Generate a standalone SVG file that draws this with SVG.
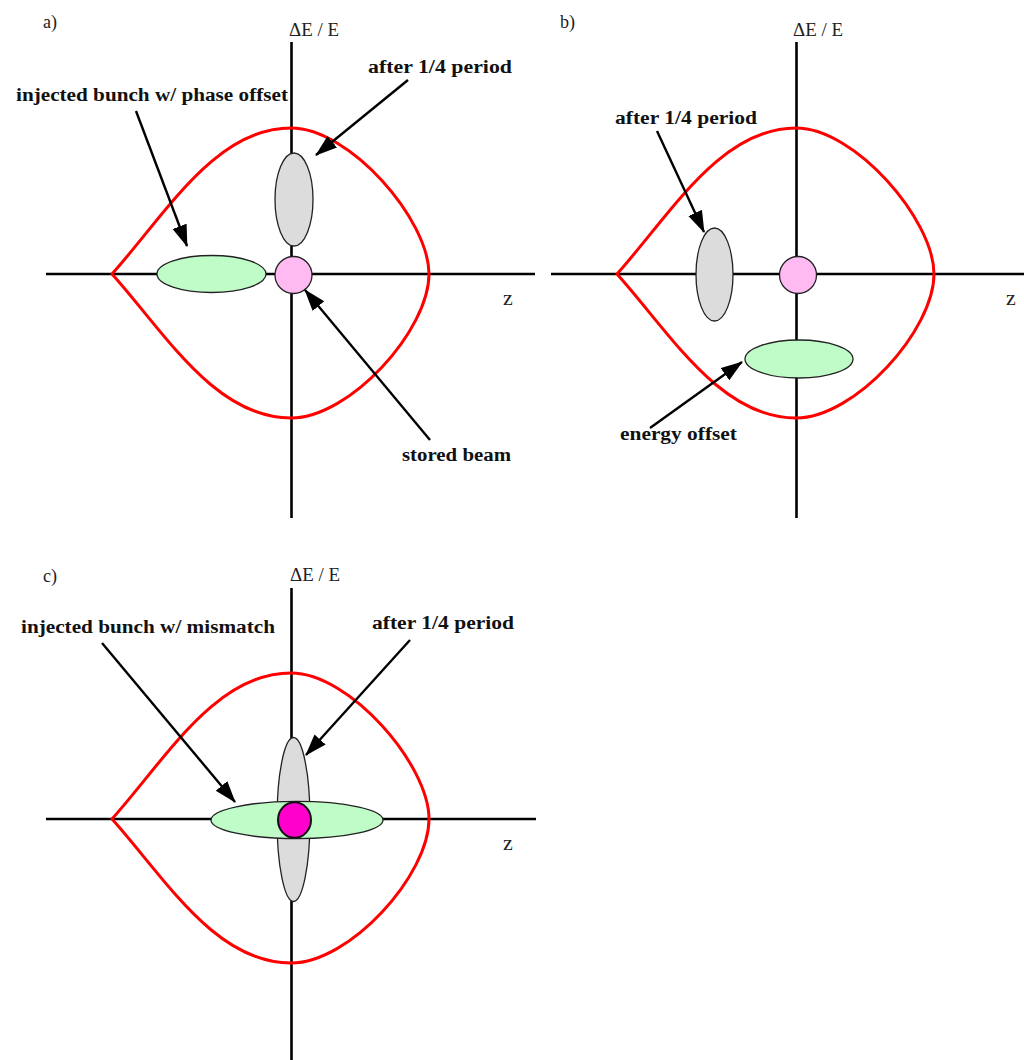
<svg xmlns="http://www.w3.org/2000/svg" xmlns:xlink="http://www.w3.org/1999/xlink" width="1024" height="1060" viewBox="0 0 1024 1060">
<style>
.axis{stroke:#000;stroke-width:2.6;fill:none}
.sep{stroke:#f00;stroke-width:3;fill:none;stroke-linejoin:round}
.bunch{stroke:#222;stroke-width:1.3}
.green{fill:#c0fcc8}
.gray{fill:#dcdcdc}
.pink{fill:#ffbaf2}
.mag{fill:#ff00cc;stroke:#111;stroke-width:2}
.arrow{stroke:#000;stroke-width:2.4;fill:none;marker-end:url(#ah)}
.lbl{font-family:"Liberation Serif","Times New Roman",serif;font-weight:bold;font-size:18px;fill:#111}
.ax{font-family:"Liberation Serif","Times New Roman",serif;font-size:18px;fill:#222}
.zl{font-family:"Liberation Serif","Times New Roman",serif;font-size:22px;fill:#222}
</style>
<defs>
<marker id="ah" markerUnits="userSpaceOnUse" markerWidth="24" markerHeight="16" refX="21" refY="7.5" orient="auto">
<path d="M0,0 L22,7.5 L0,15 Z" fill="#000"/>
</marker>
<path id="separatrix" d="M112,274 C165,215 215,128 291,128 C350,128 429,220 429,274 C429,330 350,418 291,418 C215,418 165,333 112,274 Z"/>
</defs>
<rect width="1024" height="1060" fill="#fff"/>

<g id="axes">
<line class="axis" x1="291.5" y1="42" x2="291.5" y2="518"/>
<line class="axis" x1="46" y1="274" x2="535" y2="274"/>
<line class="axis" x1="796.5" y1="42" x2="796.5" y2="518"/>
<line class="axis" x1="551" y1="274" x2="1024" y2="274"/>
<line class="axis" x1="291.5" y1="588" x2="291.5" y2="1060"/>
<line class="axis" x1="46" y1="819" x2="536" y2="819"/>
</g>

<g id="separatrices">
<use xlink:href="#separatrix" href="#separatrix" class="sep"/>
<use xlink:href="#separatrix" href="#separatrix" class="sep" transform="translate(505,0)"/>
<use xlink:href="#separatrix" href="#separatrix" class="sep" transform="translate(0,545)"/>
</g>

<g id="panel-a-labels">
<text class="ax" x="43" y="28">a)</text>
<text class="ax" x="289" y="36" textLength="50" lengthAdjust="spacingAndGlyphs">ΔE / E</text>
<text class="zl" x="503" y="305">z</text>
</g>
<g id="panel-b-labels">
<text class="ax" x="560" y="28">b)</text>
<text class="ax" x="793" y="36" textLength="50" lengthAdjust="spacingAndGlyphs">ΔE / E</text>
<text class="zl" x="1006" y="305">z</text>
</g>
<g id="panel-c-labels">
<text class="ax" x="43" y="582">c)</text>
<text class="ax" x="290" y="581" textLength="50" lengthAdjust="spacingAndGlyphs">ΔE / E</text>
<text class="zl" x="503" y="850">z</text>
</g>

<g id="a-injected"><ellipse class="bunch green" cx="211.5" cy="274" rx="54.5" ry="18.5"/></g>
<g id="a-quarter"><ellipse class="bunch gray" cx="294" cy="199.5" rx="19" ry="46.5"/></g>
<g id="a-stored"><circle class="bunch pink" cx="293.5" cy="275" r="18.5"/></g>

<g id="b-quarter"><ellipse class="bunch gray" cx="714.5" cy="274.5" rx="18.5" ry="46.5"/></g>
<g id="b-stored"><circle class="bunch pink" cx="798" cy="275" r="18.5"/></g>
<g id="b-energy"><ellipse class="bunch green" cx="799" cy="359" rx="54" ry="19"/></g>

<g id="c-quarter"><ellipse class="bunch gray" cx="293.5" cy="819.5" rx="16.5" ry="82"/></g>
<g id="c-injected"><ellipse class="bunch green" cx="297" cy="820" rx="86" ry="18.7"/></g>
<g id="c-stored"><ellipse class="mag" cx="294.5" cy="820" rx="16.5" ry="17.8"/></g>

<g id="connectors">
<line class="arrow" x1="136" y1="111" x2="187" y2="246"/>
<line class="arrow" x1="408" y1="80" x2="316" y2="155"/>
<line class="arrow" x1="430" y1="440" x2="305" y2="290"/>
<line class="arrow" x1="657" y1="131" x2="704" y2="232"/>
<line class="arrow" x1="650" y1="428" x2="742" y2="362"/>
<line class="arrow" x1="102" y1="643" x2="235" y2="802"/>
<line class="arrow" x1="410" y1="640" x2="306" y2="755"/>
</g>

<g id="a-label-injected"><text class="lbl" x="16" y="101" textLength="272" lengthAdjust="spacingAndGlyphs">injected bunch w/ phase offset</text></g>
<g id="a-label-quarter"><text class="lbl" x="368" y="73" textLength="144" lengthAdjust="spacingAndGlyphs">after 1/4 period</text></g>
<g id="a-label-stored"><text class="lbl" x="402" y="461" textLength="109" lengthAdjust="spacingAndGlyphs">stored beam</text></g>
<g id="b-label-quarter"><text class="lbl" x="615" y="124" textLength="142" lengthAdjust="spacingAndGlyphs">after 1/4 period</text></g>
<g id="b-label-energy"><text class="lbl" x="620" y="440" textLength="117" lengthAdjust="spacingAndGlyphs">energy offset</text></g>
<g id="c-label-injected"><text class="lbl" x="21" y="633" textLength="254" lengthAdjust="spacingAndGlyphs">injected bunch w/ mismatch</text></g>
<g id="c-label-quarter"><text class="lbl" x="372" y="629" textLength="142" lengthAdjust="spacingAndGlyphs">after 1/4 period</text></g>
</svg>
